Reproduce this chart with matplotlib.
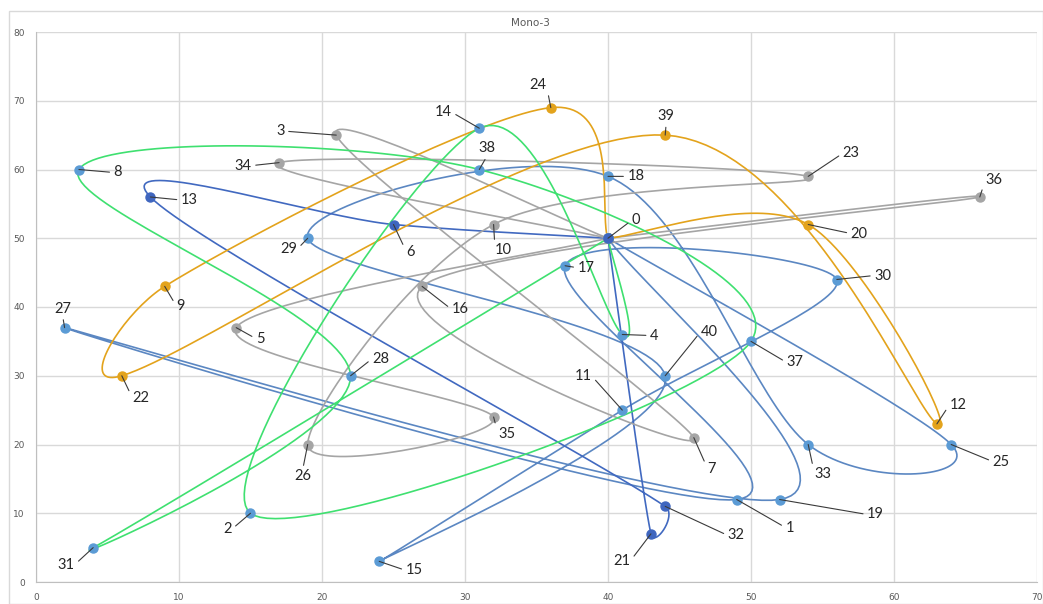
import numpy as np
import matplotlib
matplotlib.use("Agg")
import matplotlib.pyplot as plt
from matplotlib.patches import Rectangle

# ---- data: node coordinates (index = node id) ----
node_x = [40, 49, 15, 21, 41, 14, 25, 46, 3, 9, 32, 41, 63, 8, 31, 24, 27, 37, 40, 52,
          54, 43, 6, 54, 36, 64, 19, 2, 22, 19, 56, 4, 44, 54, 17, 32, 66, 50, 31, 44, 44]
node_y = [50, 12, 10, 65, 36, 37, 52, 21, 60, 43, 52, 25, 23, 56, 66, 3, 43, 46, 59, 12,
          52, 7, 30, 59, 69, 20, 20, 37, 30, 50, 44, 5, 11, 20, 61, 24, 56, 35, 60, 65, 30]

# ---- routes (sequences of node ids) ----
route_blue = [0, 19, 27, 1, 17, 30, 11, 15, 40, 29, 18, 33, 25, 0]
route_darkblue = [0, 6, 13, 32, 21, 0]
route_gray1 = [0, 3, 7, 16, 36, 0]
route_gray2 = [0, 34, 23, 10, 26, 35, 5, 0]
route_orange = [0, 24, 9, 22, 39, 12, 20, 0]
route_green = [0, 4, 14, 2, 37, 38, 8, 28, 31, 0]

title = "Mono-3"
x_ticks = [0, 10, 20, 30, 40, 50, 60, 70]
y_ticks = [0, 10, 20, 30, 40, 50, 60, 70, 80]

# ---- styling ----
series = [
    (route_blue, "#5b87c2", "#5b9bd5"),
    (route_darkblue, "#4169c0", "#3f66bf"),
    (route_gray1, "#a5a5a5", "#a5a5a5"),
    (route_gray2, "#a5a5a5", "#a5a5a5"),
    (route_orange, "#e3a31c", "#e3a31c"),
    (route_green, "#3fe070", "#5b9bd5"),
]

# label offsets in pixels (dx right, dy up) for each node
label_off = {
    0: (28, 18), 1: (53, -28), 2: (-23, -16), 3: (-56, 4), 4: (32, -1), 5: (24, -11),
    6: (17, -27), 7: (18, -31), 8: (39, -3), 9: (16, -20), 10: (10, -26), 11: (-39, 34),
    12: (21, 19), 13: (39, -3), 14: (-36, 16), 15: (35, -9), 16: (38, -23), 17: (21, -2),
    18: (28, 0), 19: (96, -15), 20: (51, -9), 21: (-29, -27), 22: (19, -22), 23: (43, 23),
    24: (-13, 23), 25: (50, -17), 26: (-5, -32), 27: (-2, 19), 28: (30, 17), 29: (-19, -11),
    30: (46, 4), 31: (-27, -17), 32: (71, -29), 33: (15, -30), 34: (-36, -3), 35: (13, -17),
    36: (14, 17), 37: (44, -21), 38: (8, 21), 39: (1, 19), 40: (44, 44),
}

W, H = 1043, 604
AX_L, AX_R, AX_T, AX_B = 36, 1037, 32, 582
SX = (AX_R - AX_L) / 70.0
SY = (AX_B - AX_T) / 80.0


def smooth_path(px, py, n=40):
    # Excel-like smoothing: Bezier arms = (P[i+1]-P[i-1])/6, capped to half the
    # segment length (computed in screen space)
    P = np.column_stack([np.asarray(px, float) * SX, np.asarray(py, float) * SY])
    m = len(P)
    t = np.linspace(0, 1, n)[:, None]
    segs = []
    for i in range(m - 1):
        p0 = P[max(i - 1, 0)]
        p1, p2 = P[i], P[i + 1]
        p3 = P[min(i + 2, m - 1)]
        d12 = np.linalg.norm(p2 - p1)
        a1 = (p2 - p0) / 6.0
        a2 = (p3 - p1) / 6.0
        for a in (a1, a2):
            L = np.linalg.norm(a)
            if L > d12 / 2.0 and L > 0:
                a *= (d12 / 2.0) / L
        c1 = p1 + a1
        c2 = p2 - a2
        seg = (1 - t) ** 3 * p1 + 3 * (1 - t) ** 2 * t * c1 + 3 * (1 - t) * t ** 2 * c2 + t ** 3 * p2
        segs.append(seg if i == 0 else seg[1:])
    out = np.vstack(segs)
    return out[:, 0] / SX, out[:, 1] / SY


fig = plt.figure(figsize=(W / 100, H / 100), dpi=100)
fig.patch.set_facecolor("white")
fig.add_artist(Rectangle((9 / W, 0), (W - 9) / W, 1 - 11 / H, transform=fig.transFigure,
                         fill=False, edgecolor="#d9d9d9", lw=1.0))

ax = fig.add_axes([AX_L / W, (H - AX_B) / H, (AX_R - AX_L) / W, (AX_B - AX_T) / H])
ax.set_xlim(0, 70)
ax.set_ylim(0, 80)
ax.set_xticks(x_ticks)
ax.set_yticks(y_ticks)
ax.grid(True, color="#d9d9d9", lw=1.0)
ax.set_axisbelow(True)
for s in ["top", "right"]:
    ax.spines[s].set_visible(False)
for s in ["left", "bottom"]:
    ax.spines[s].set_color("#bfbfbf")
ax.tick_params(length=0, labelsize=6.5, labelcolor="#595959", pad=8)

for route, lc, mc in series:
    rx = [node_x[i] for i in route]
    ry = [node_y[i] for i in route]
    sx, sy = smooth_path(rx, ry)
    ax.plot(sx, sy, color=lc, lw=1.2, zorder=2, solid_capstyle="round")
    ax.plot(rx, ry, ls="none", marker="o", ms=6.5, color=mc, mec=mc, zorder=3)

ax.plot([node_x[0]], [node_y[0]], ls="none", marker="o", ms=6.5, color="#3f66bf", zorder=3)

for i in range(len(node_x)):
    dx, dy = label_off[i]
    if dx > 8:
        rel = (0.0, 0.5)
    elif dx < -8:
        rel = (1.0, 0.5)
    else:
        rel = (0.5, 0.0 if dy > 0 else 1.0)
    ax.annotate(str(i), xy=(node_x[i], node_y[i]), xytext=(dx, dy), textcoords="offset pixels",
                ha="center", va="center", fontsize=10.5, color="#262626", family="Lato",
                zorder=5,
                arrowprops=dict(arrowstyle="-", color="#3a3a3a", lw=0.8, shrinkA=1, shrinkB=0,
                                relpos=rel))

fig.text(530 / W, 1 - 23 / H, title, ha="center", va="center", fontsize=7.5, color="#595959")

fig.savefig("out.png", dpi=100, facecolor="white")
